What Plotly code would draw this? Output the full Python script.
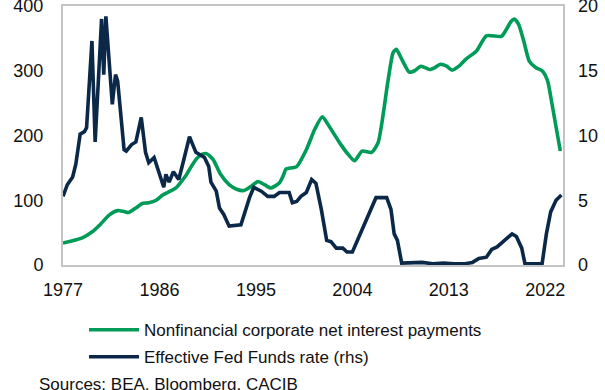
import plotly.graph_objects as go

# Nonfinancial corporate net interest payments (lhs, USD bn)
nip_year = [1977.0, 1977.8, 1978.8, 1979.7, 1980.5, 1981.3, 1982.1, 1982.6, 1983.1, 1983.8,
            1984.4, 1985.0, 1985.7, 1986.3, 1987.0, 1987.6, 1988.0, 1988.5, 1989.0, 1989.5,
            1990.0, 1990.4, 1991.0, 1991.7, 1992.5, 1993.2, 1993.9, 1994.6, 1995.2, 1995.8,
            1996.4, 1997.2, 1997.6, 1997.8, 1998.8, 1999.7, 2000.5, 2001.2, 2001.8, 2002.8,
            2003.5, 2004.2, 2004.9, 2005.8, 2006.4, 2007.3, 2007.8, 2008.1, 2008.6, 2009.3,
            2009.8, 2010.4, 2011.2, 2011.7, 2012.2, 2012.8, 2013.3, 2014.0, 2014.6, 2015.6,
            2016.5, 2017.9, 2018.3, 2018.8, 2019.1, 2019.5, 2020.0, 2020.5, 2021.1, 2021.7,
            2022.2, 2022.6, 2023.4]
nip_value = [34, 37, 42, 51, 63, 77, 84, 83, 81, 88,
             95, 96, 100, 108, 114, 120, 128, 139, 153, 165,
             171, 172, 163, 140, 124, 117, 115, 122, 129, 124,
             119, 127, 140, 148, 152, 178, 210, 229, 215, 189,
             173, 161, 176, 174, 189, 282, 328, 333, 318, 298,
             300, 307, 302, 305, 310, 307, 301, 308, 318, 331,
             354, 353, 362, 376, 380, 372, 345, 315, 305, 300,
             285, 251, 176]

# Effective Fed Funds rate (rhs, %)
ff_year = [1977.0, 1977.4, 1977.9, 1978.2, 1978.6, 1979.0, 1979.2, 1979.7, 1980.0, 1980.6,
           1980.8, 1981.0, 1981.6, 1981.9, 1982.1, 1982.5, 1982.7, 1982.9, 1983.4, 1983.8,
           1984.3, 1984.7, 1985.0, 1985.5, 1986.0, 1986.4, 1986.6, 1986.9, 1987.3, 1987.8,
           1988.2, 1988.8, 1989.4, 1990.2, 1990.6, 1990.8, 1991.3, 1991.6, 1992.0, 1992.5,
           1993.6, 1994.1, 1994.4, 1994.8, 1995.5, 1996.1, 1996.7, 1997.2, 1998.1, 1998.4,
           1998.8, 1999.2, 1999.7, 2000.2, 2000.6, 2001.1, 2001.6, 2002.0, 2002.5, 2003.1,
           2003.5, 2004.0, 2004.8, 2005.6, 2006.2, 2007.2, 2007.6, 2007.9, 2008.2, 2008.6,
           2009.5, 2010.5, 2011.5, 2012.5, 2013.5, 2014.5, 2015.2, 2015.8, 2016.5, 2017.0,
           2017.5, 2018.1, 2018.9, 2019.3, 2019.8, 2020.1, 2021.7, 2022.1, 2022.5, 2023.0,
           2023.5]
ff_rate = [5.3, 6.2, 6.8, 7.8, 10.1, 10.3, 10.6, 17.3, 9.5, 19.0,
           14.7, 19.2, 12.4, 14.7, 14.2, 10.5, 8.9, 8.8, 9.3, 9.5,
           11.4, 8.7, 7.9, 8.3, 7.0, 6.0, 7.0, 6.4, 7.2, 6.6,
           7.9, 9.9, 8.7, 8.3, 7.6, 6.4, 5.7, 4.4, 3.9, 3.0,
           3.1, 4.4, 5.2, 6.0, 5.7, 5.3, 5.3, 5.6, 5.6, 4.8,
           4.9, 5.3, 5.6, 6.6, 6.3, 4.3, 1.9, 1.8, 1.3, 1.3,
           1.0, 1.0, 2.5, 4.0, 5.2, 5.2, 4.3, 2.4, 1.9, 0.15,
           0.15, 0.2, 0.1, 0.15, 0.1, 0.1, 0.2, 0.5, 0.6, 1.2,
           1.4, 1.8, 2.4, 2.2, 1.3, 0.1, 0.1, 2.4, 4.1, 5.0,
           5.4]

year_ticks = [1977, 1986, 1995, 2004, 2013, 2022]
lhs_ticks = [0, 100, 200, 300, 400]
rhs_ticks = [0, 5, 10, 15, 20]

GREEN = "#009B57"
NAVY = "#0B2848"
FONT = "Liberation Sans, Arial, sans-serif"
TXT = "#111111"
FRAME = "#C4C4C4"

fig = go.Figure()
fig.add_trace(go.Scatter(
    x=nip_year, y=nip_value, mode="lines",
    name="Nonfinancial corporate net interest payments",
    line=dict(color=GREEN, width=3.6, shape="spline", smoothing=0.6),
    legendgroup="a", yaxis="y",
))
fig.add_trace(go.Scatter(
    x=ff_year, y=ff_rate, mode="lines",
    name="Effective Fed Funds rate (rhs)",
    line=dict(color=NAVY, width=3.6),
    legendgroup="b", yaxis="y2",
))

fig.update_layout(
    width=605, height=390,
    margin=dict(l=63, r=42, t=6, b=125),
    paper_bgcolor="white", plot_bgcolor="white",
    font=dict(family=FONT, size=17, color=TXT),
    showlegend=True,
    legend=dict(
        x=(84 - 63) / 500, y=-0.182, xanchor="left", yanchor="top",
        font=dict(family=FONT, size=17, color=TXT),
        tracegroupgap=2, itemwidth=50,
        bgcolor="rgba(0,0,0,0)",
    ),
    xaxis=dict(
        range=[1977, 2023.65], tickvals=year_ticks,
        ticktext=[str(v) for v in year_ticks],
        showgrid=False, zeroline=False, automargin=False,
        showline=True, mirror=True, linecolor=FRAME, linewidth=2,
        ticks="", tickfont=dict(size=18, color=TXT),
        ticklabelstandoff=7, ticklabeloverflow="allow",
    ),
    yaxis=dict(
        range=[0, 400], tickvals=lhs_ticks,
        showgrid=False, zeroline=False, automargin=False,
        showline=True, mirror=True, linecolor=FRAME, linewidth=2,
        ticks="", tickfont=dict(size=18, color=TXT),
        ticklabelstandoff=14, ticklabeloverflow="allow",
    ),
    yaxis2=dict(
        range=[0, 20], tickvals=rhs_ticks, overlaying="y", side="right",
        showgrid=False, zeroline=False, showline=False, automargin=False,
        ticks="", tickfont=dict(size=18, color=TXT),
        ticklabelstandoff=14, ticklabeloverflow="allow",
    ),
    annotations=[dict(
        text="Sources: BEA, Bloomberg, CACIB",
        xref="paper", yref="paper",
        x=(37 - 63) / 500, y=(265 - 384) / 259,
        xanchor="left", yanchor="middle", showarrow=False,
        font=dict(family=FONT, size=17, color=TXT),
    )],
)

fig.write_html("out.html")
